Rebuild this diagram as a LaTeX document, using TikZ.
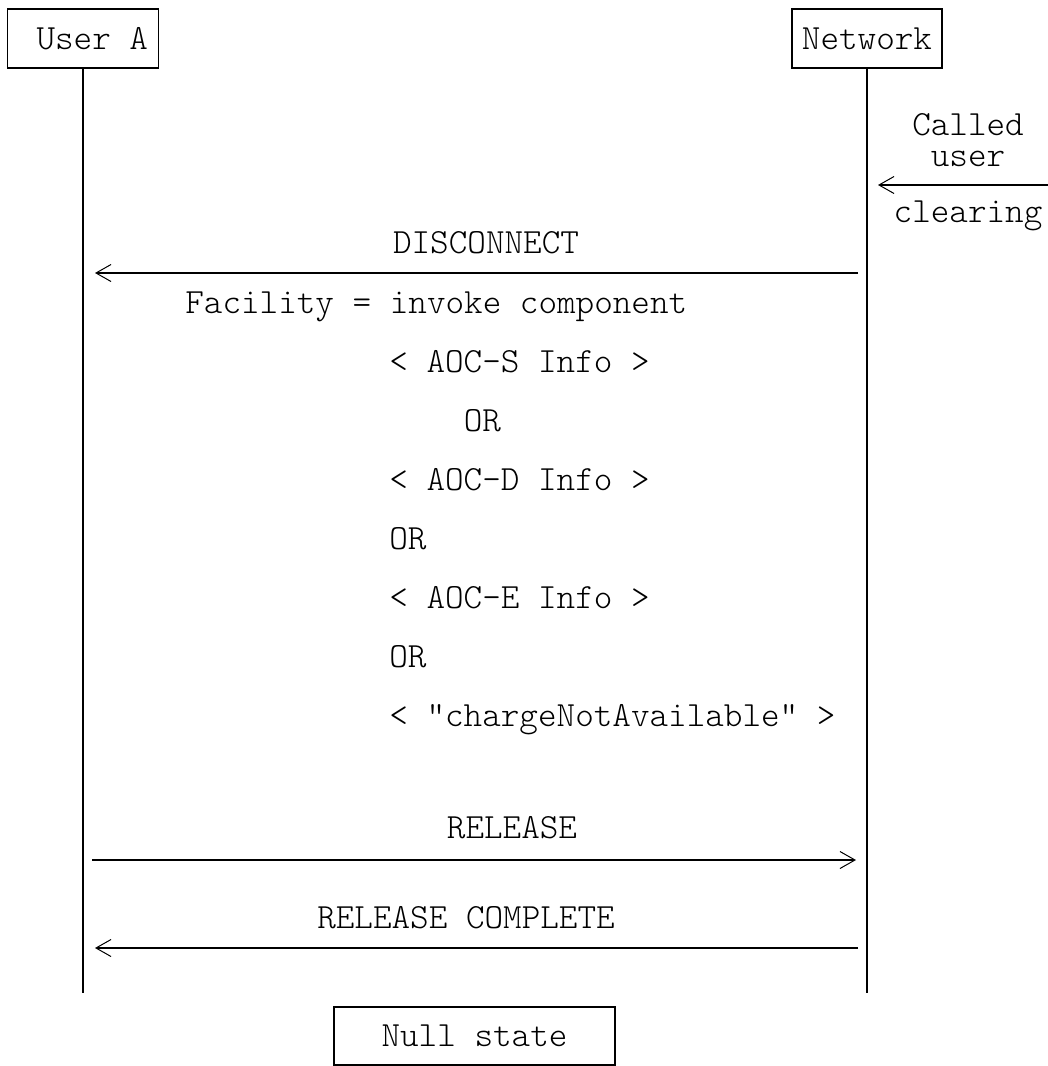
\documentclass[tikz,border=0pt]{standalone}
\usepackage{fontspec}
\setmonofont{Latin Modern Mono Light}
\usetikzlibrary{arrows.meta}

\begin{document}
\begin{tikzpicture}[
    x=0.5pt, y=-0.5pt,
    every node/.style={font=\ttfamily\fontsize{17.7}{20}\selectfont, inner sep=0pt},
    party/.style={draw, line width=0.9pt, minimum height=29.5pt},
    txt/.style={anchor=base},
    col/.style={anchor=base west},
    life/.style={line width=1pt},
    msg/.style={line width=1pt, -{Straight Barb[length=7.5pt, width=8.5pt, line width=0.5pt]}}
]
\useasboundingbox (0,0) rectangle (1048,1066);
% parties
\node[party, minimum width=75.5pt] (usera) at (83,38.5) {\ User A};
\node[party, minimum width=75pt] (net) at (867,38.5) {Network};
\node[party, minimum width=140.5pt, minimum height=29pt] (null) at (474.5,1036) {Null state};
\coordinate (usera-end) at (83,993);
\coordinate (net-end) at (867,993);
\draw[life] (usera) -- (usera-end);
\draw[life] (net) -- (net-end);
% called user clearing
\node[txt] (called) at (968,135) {Called};
\node[txt] (user) at (968,166) {user};
\node[txt] (clearing) at (968,222) {clearing};
\coordinate (clr-from) at (1048,185);
\coordinate (clr-to) at (878,185);
\draw[msg] (clr-from) -- (clr-to);
% disconnect
\node[txt] (disc) at (486,253) {DISCONNECT};
\coordinate (disc-n) at (858,273);
\coordinate (disc-a) at (95,273);
\draw[msg] (disc-n) -- (disc-a);
\node[col] (fac) at (185,313) {Facility = invoke component};
\node[col] (aocs) at (389,372) {< AOC-S Info >};
\node[col] (or1) at (463.4,431) {OR};
\node[col] (aocd) at (389,490) {< AOC-D Info >};
\node[col] (or2) at (389,549) {OR};
\node[col] (aoce) at (389,608) {< AOC-E Info >};
\node[col] (or3) at (389,667) {OR};
\node[col] (cna) at (389,726) {< "chargeNotAvailable" >};
% release
\node[txt] (rel) at (512,838) {RELEASE};
\coordinate (rel-a) at (92,860);
\coordinate (rel-n) at (856,860);
\draw[msg] (rel-a) -- (rel-n);
\node[txt] (relc) at (466,928) {RELEASE COMPLETE};
\coordinate (relc-n) at (858,948);
\coordinate (relc-a) at (95,948);
\draw[msg] (relc-n) -- (relc-a);
\end{tikzpicture}
\end{document}
